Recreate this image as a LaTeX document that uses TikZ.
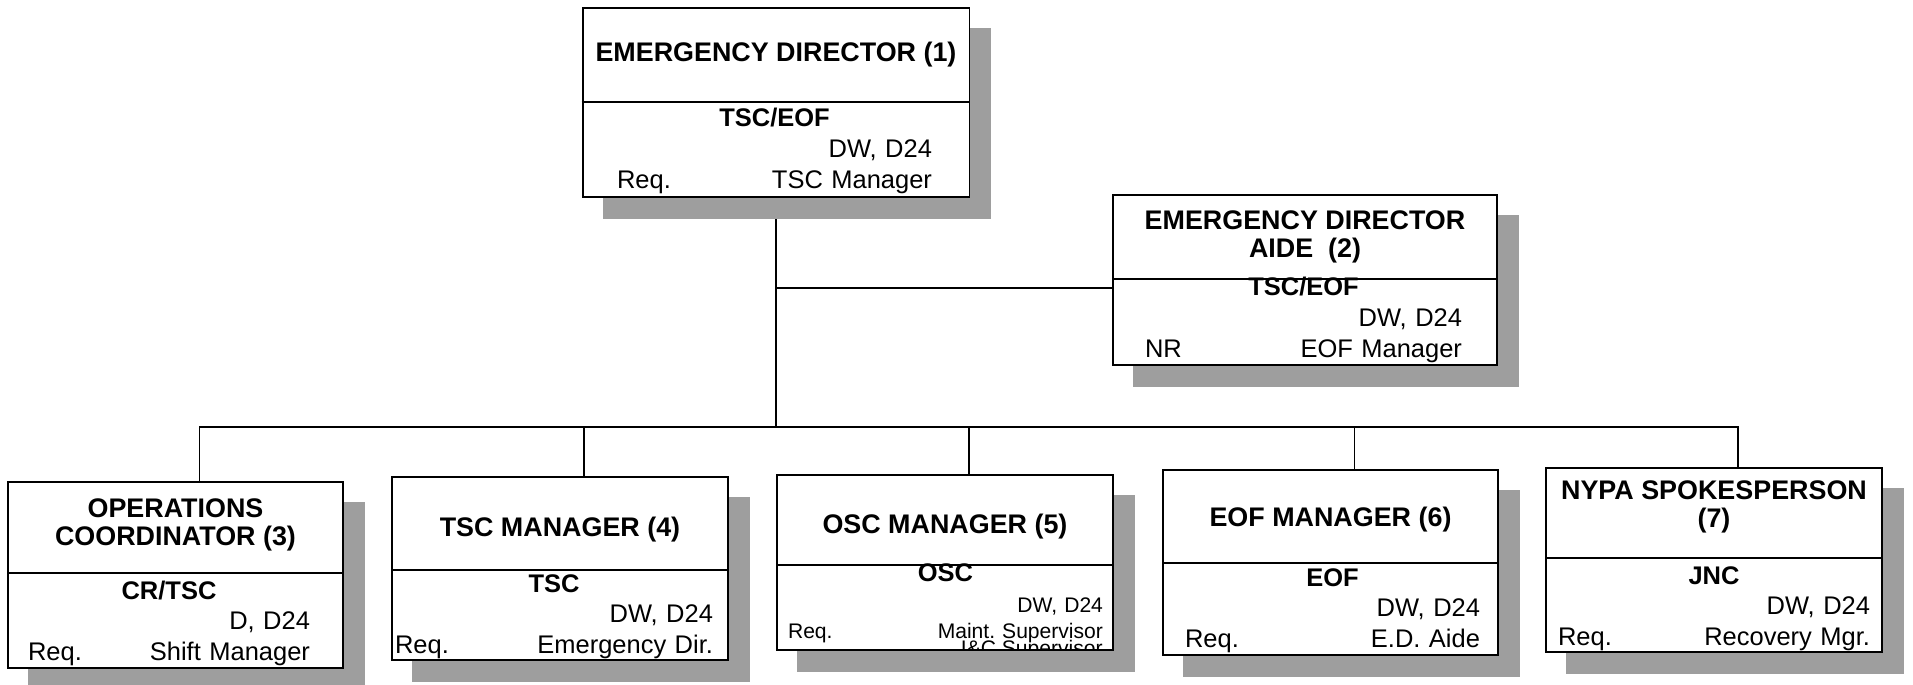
\documentclass[tikz,border=0pt]{standalone}
\usepackage{fontspec}
\setmainfont{Liberation Sans}
\usetikzlibrary{backgrounds}
\definecolor{screen}{gray}{0.62}

\begin{document}
\begin{tikzpicture}[
  x=0.02cm, y=-0.02cm,
  every node/.style={inner sep=0pt},
  frame/.style={draw,line width=1.1pt,fill=white},
  title/.style={align=center,font=\fontsize{15.3}{16.3}\selectfont\bfseries},
  body/.style={anchor=base,align=left,font=\fontsize{14.5}{17.5}\selectfont},
  shade/.style={fill=screen},
  wire/.style={line width=1.1pt}
]
\useasboundingbox (0,0) rectangle (1913,685);

% boxes
\node[frame,minimum width=7.74cm,minimum height=3.78cm] (ed) at (776,102.5) {};
\node[frame,minimum width=7.68cm,minimum height=3.4cm] (aide) at (1305,280) {};
\node[frame,minimum width=6.7cm,minimum height=3.72cm] (ops) at (175.5,575) {};
\node[frame,minimum width=6.72cm,minimum height=3.66cm] (tscm) at (560,568.5) {};
\node[frame,minimum width=6.72cm,minimum height=3.5cm] (oscm) at (945,562.5) {};
\node[frame,minimum width=6.7cm,minimum height=3.7cm] (eofm) at (1330.5,562.5) {};
\node[frame,minimum width=6.72cm,minimum height=3.68cm] (nypa) at (1714,560) {};

\draw[wire] (ed.west |- 0,102) -- (ed.east |- 0,102);
\draw[wire] (aide.west |- 0,279) -- (aide.east |- 0,279);
\draw[wire] (ops.west |- 0,573) -- (ops.east |- 0,573);
\draw[wire] (tscm.west |- 0,570) -- (tscm.east |- 0,570);
\draw[wire] (oscm.west |- 0,565) -- (oscm.east |- 0,565);
\draw[wire] (eofm.west |- 0,563) -- (eofm.east |- 0,563);
\draw[wire] (nypa.west |- 0,558) -- (nypa.east |- 0,558);

% titles
\node[title] (edT) at (776,55) {EMERGENCY DIRECTOR (1)};
\node[title] (aideT) at (1305,237) {EMERGENCY DIRECTOR\\AIDE\ \ (2)};
\node[title] (opsT) at (175.5,525) {OPERATIONS\\COORDINATOR (3)};
\node[title] (tscmT) at (560,530) {TSC MANAGER (4)};
\node[title] (oscmT) at (945,527) {OSC MANAGER (5)};
\node[title] (eofmT) at (1330.5,520) {EOF MANAGER (6)};
\node[title] (nypaT) at (1714,507) {NYPA SPOKESPERSON\\(7)};

% location, shift and relief
\node[body,text width=6.3cm] (edB) at (774.5,127)
  {\makebox[\linewidth]{\bfseries TSC/EOF}\\\makebox[\linewidth][r]{DW, D24}\\\makebox[\linewidth][s]{Req.\hfill TSC Manager}};
\node[body,text width=6.34cm] (aideB) at (1303.5,296)
  {\makebox[\linewidth]{\bfseries TSC/EOF}\\\makebox[\linewidth][r]{DW, D24}\\\makebox[\linewidth][s]{NR\hfill EOF Manager}};
\node[body,text width=5.64cm] (opsB) at (169,599)
  {\makebox[\linewidth]{\bfseries CR/TSC}\\\makebox[\linewidth][r]{D, D24}\\\makebox[\linewidth][s]{Req.\hfill Shift Manager}};
\node[body,text width=6.36cm] (tscmB) at (554,592)
  {\makebox[\linewidth]{\bfseries TSC}\\\makebox[\linewidth][r]{DW, D24}\\\makebox[\linewidth][s]{Req.\hfill Emergency Dir.}};
\node[body,text width=6.3cm,font=\fontsize{12}{15.2}\selectfont] (oscmB) at (945.5,582)
  {\makebox[\linewidth]{\fontsize{14.5}{17}\selectfont\bfseries OSC}\\[2pt]\makebox[\linewidth][r]{DW, D24}\\\makebox[\linewidth][s]{Req.\hfill Maint.\ Supervisor}};
\node[body,text width=5.9cm] (eofmB) at (1332.5,586)
  {\makebox[\linewidth]{\bfseries EOF}\\\makebox[\linewidth][r]{DW, D24}\\\makebox[\linewidth][s]{Req.\hfill E.D. Aide}};
\node[body,text width=6.24cm] (nypaB) at (1714,584)
  {\makebox[\linewidth]{\bfseries JNC}\\\makebox[\linewidth][r]{DW, D24}\\\makebox[\linewidth][s]{Req.\hfill Recovery Mgr.}};

% cut off by the box edge
\begin{scope}
  \clip (oscm.south west) rectangle (oscm.north east);
  \node[anchor=base east,font=\fontsize{12}{14}\selectfont] (oscmX) at (1103,655) {I\&C Supervisor};
\end{scope}

\begin{scope}[on background layer]
  \coordinate (bus) at (776,427);
  \coordinate (tap) at (776,288);
  \draw[wire] (ed) -- (bus);
  \draw[wire] (tap) -- (aide.west |- tap);
  \draw[wire] ([xshift=0.48cm]ops.north) |- (bus);
  \draw[wire] ([xshift=0.48cm]tscm.north) |- (bus);
  \draw[wire] ([xshift=0.48cm]oscm.north) |- (bus);
  \draw[wire] ([xshift=0.48cm]eofm.north) |- (bus);
  \draw[wire] ([xshift=0.48cm]nypa.north) |- (bus);
  % drop shadows
  \fill[shade] ([shift={(21,21)}]ed.south west) rectangle ([shift={(21,21)}]ed.north east);
  \fill[shade] ([shift={(21,21)}]aide.south west) rectangle ([shift={(21,21)}]aide.north east);
  \fill[shade] ([shift={(21,21)}]ops.south west) rectangle ([shift={(21,21)}]ops.north east);
  \fill[shade] ([shift={(21,21)}]tscm.south west) rectangle ([shift={(21,21)}]tscm.north east);
  \fill[shade] ([shift={(21,21)}]oscm.south west) rectangle ([shift={(21,21)}]oscm.north east);
  \fill[shade] ([shift={(21,21)}]eofm.south west) rectangle ([shift={(21,21)}]eofm.north east);
  \fill[shade] ([shift={(21,21)}]nypa.south west) rectangle ([shift={(21,21)}]nypa.north east);
\end{scope}
\end{tikzpicture}
\end{document}
